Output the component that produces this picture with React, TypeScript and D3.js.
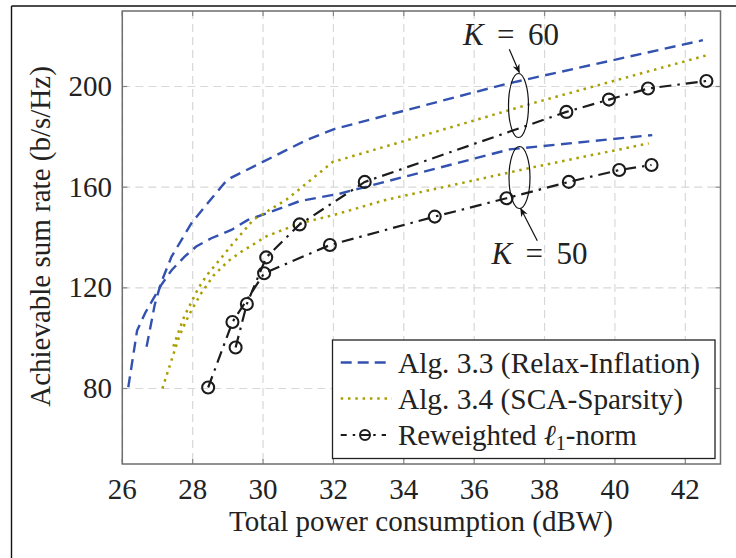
import React from "react";
import * as d3 from "d3";

type Pt = [number, number];

const xTicks = [26, 28, 30, 32, 34, 36, 38, 40, 42];
const yTicks = [80, 120, 160, 200];

const relaxK50: Pt[] = [[26.17, 80.5], [26.42, 103], [26.65, 110], [27.1, 121], [27.4, 127], [27.77, 132.4], [28.1, 136.4], [28.53, 139.7], [29.1, 143], [29.57, 147], [30.1, 149.6], [31.05, 154.5], [32.2, 157.5], [37.0, 175], [41.06, 180.7]];
const relaxK60: Pt[] = [[26.69, 96.6], [26.83, 106.6], [26.92, 113.2], [27.1, 122], [27.4, 132.4], [27.97, 145.8], [28.43, 153.7], [28.9, 161.6], [29.1, 163.8], [31.23, 178.7], [32, 183], [36.9, 201], [42.5, 218.4]];
const scaK50: Pt[] = [[27.14, 80], [27.3, 87], [27.45, 93.5], [27.6, 100], [27.8, 106.5], [28.0, 112], [28.25, 118], [28.6, 125], [29.0, 130.5], [29.4, 134.5], [30.1, 140.5], [31.04, 145.6], [32, 148.9], [33.5, 155], [37.7, 168], [40.96, 177.4]];
const scaK60: Pt[] = [[27.45, 96.7], [27.6, 102.6], [27.76, 108.6], [27.97, 114.5], [28.16, 119.8], [28.4, 125], [28.7, 130], [29.15, 137.7], [29.72, 147], [30.66, 155], [31.28, 162], [31.98, 170], [37.7, 193.5], [42.61, 212.4]];
const rwK50: Pt[] = [[28.44, 80.4], [29.13, 106.4], [30.03, 125.8], [31.9, 137.0], [34.88, 148.3], [36.92, 155.6], [38.69, 162.1], [40.12, 166.8], [41.04, 168.8]];
const rwK60: Pt[] = [[29.22, 96.3], [29.54, 113.6], [30.09, 132.1], [31.04, 145.2], [32.89, 162.1], [38.62, 189.9], [39.83, 194.8], [40.94, 199.2], [42.6, 202.2]];

const legendLabels = ["Alg. 3.3 (Relax-Inflation)", "Alg. 3.4 (SCA-Sparsity)", "Reweighted "];
const xLabel = "Total power consumption (dBW)";
const yLabel = "Achievable sum rate (b/s/Hz)";

const BLUE = "#3352b0";
const OLIVE = "#a99f00";
const BLACK = "#1c1c1c";
const FONT = '"Liberation Serif", "DejaVu Serif", "Times New Roman", serif';

export default function App() {
  const W = 736, H = 558;
  const left = 122.3, right = 720.5, top = 11, bottom = 464;
  const x = d3.scaleLinear().domain([26, 43]).range([left, right]);
  const y = d3.scaleLinear().domain([50, 230]).range([bottom, top]);
  const line = d3.line<Pt>().x(d => x(d[0])).y(d => y(d[1]));

  const blueStyle = { stroke: BLUE, strokeWidth: 2.4, strokeDasharray: "11,6.5", fill: "none" };
  const oliveStyle = { stroke: OLIVE, strokeWidth: 2.5, strokeDasharray: "2.5,4.8", fill: "none" };
  const blackStyle = { stroke: BLACK, strokeWidth: 2.2, strokeDasharray: "12,6,2.5,6", fill: "none" };

  const fs = 29;
  const ts = { fontFamily: FONT };

  return (
    <svg width={W} height={H} style={{ position: "absolute", left: 0, top: 0, background: "#fff", fontFamily: FONT }}>
      <defs>
        <clipPath id="plotclip">
          <rect x={left} y={top} width={right - left} height={bottom - top} />
        </clipPath>
        <marker id="arr" viewBox="0 0 10 10" refX="9" refY="5" markerWidth="9" markerHeight="9" orient="auto-start-reverse" markerUnits="userSpaceOnUse">
          <path d="M0,1 L10,5 L0,9 L3,5 Z" fill="#111" />
        </marker>
      </defs>
      {/* outer frame */}
      <line x1={11.5} y1={6} x2={736} y2={6} stroke="#111" strokeWidth={1.4} />
      <line x1={11.5} y1={6} x2={11.5} y2={558} stroke="#111" strokeWidth={1.4} />

      {/* grid */}
      {xTicks.map(t => (
        <line key={"gx" + t} x1={x(t)} x2={x(t)} y1={top} y2={bottom} stroke="#d8d8d8" strokeWidth={1.2} strokeDasharray="8,5" />
      ))}
      {yTicks.map(t => (
        <line key={"gy" + t} x1={left} x2={right} y1={y(t)} y2={y(t)} stroke="#d8d8d8" strokeWidth={1.2} strokeDasharray="8,5" />
      ))}
      {/* ticks */}
      {xTicks.map(t => (
        <g key={"tx" + t} stroke="#888" strokeWidth={1.2}>
          <line x1={x(t)} x2={x(t)} y1={bottom} y2={bottom - 5} />
          <line x1={x(t)} x2={x(t)} y1={top} y2={top + 5} />
        </g>
      ))}
      {yTicks.map(t => (
        <g key={"ty" + t} stroke="#888" strokeWidth={1.2}>
          <line x1={left} x2={left + 5} y1={y(t)} y2={y(t)} />
          <line x1={right} x2={right - 5} y1={y(t)} y2={y(t)} />
        </g>
      ))}

      {/* series */}
      <g clipPath="url(#plotclip)">
        <path d={line(relaxK50) || ""} style={blueStyle} />
        <path d={line(relaxK60) || ""} style={blueStyle} />
        <path d={line(scaK50) || ""} style={oliveStyle} />
        <path d={line(scaK60) || ""} style={oliveStyle} />
        <path d={line(rwK50) || ""} style={blackStyle} />
        <path d={line(rwK60) || ""} style={blackStyle} />
        {[...rwK50, ...rwK60].map((d, i) => (
          <circle key={"c" + i} cx={x(d[0])} cy={y(d[1])} r={6} fill="none" stroke={BLACK} strokeWidth={2.1} />
        ))}
      </g>

      {/* axes box */}
      <rect x={left} y={top} width={right - left} height={bottom - top} fill="none" stroke="#6e6e6e" strokeWidth={1.5} />

      {/* tick labels */}
      {xTicks.map(t => (
        <text key={"lx" + t} style={ts} x={x(t)} y={499} textAnchor="middle" fontSize={fs} fill="#222">{t}</text>
      ))}
      {yTicks.map(t => (
        <text key={"ly" + t} style={ts} x={112} y={y(t) + 9.5} textAnchor="end" fontSize={fs} fill="#222">{t}</text>
      ))}

      {/* axis titles */}
      <text style={ts} x={421} y={531} textAnchor="middle" fontSize={fs} fill="#222">{xLabel}</text>
      <text style={ts} transform={`translate(50,${(top + bottom) / 2 - 1}) rotate(-90)`} textAnchor="middle" fontSize={fs} fill="#222">{yLabel}</text>

      {/* annotations */}
      <ellipse cx={518.5} cy={105.5} rx={10} ry={32} fill="none" stroke="#111" strokeWidth={1.2} />
      <ellipse cx={519.5} cy={177.5} rx={10.5} ry={31} fill="none" stroke="#111" strokeWidth={1.2} />
      <line x1={509.3} y1={49.3} x2={519.3} y2={72.5} stroke="#111" strokeWidth={1.2} markerEnd="url(#arr)" />
      <line x1={537.3} y1={240.7} x2={520.7} y2={208.5} stroke="#111" strokeWidth={1.2} markerEnd="url(#arr)" />
      <text style={ts} x={463} y={45} fontSize={31} fill="#222">
        <tspan fontStyle="italic">K</tspan>
        <tspan x={497}>=</tspan>
        <tspan x={528}>60</tspan>
      </text>
      <text style={ts} x={491.5} y={263.5} fontSize={31} fill="#222">
        <tspan fontStyle="italic">K</tspan>
        <tspan x={525.5}>=</tspan>
        <tspan x={556.5}>50</tspan>
      </text>

      {/* legend */}
      <rect x={332.5} y={340} width={382.5} height={118.5} fill="#fff" stroke="#222" strokeWidth={1.3} />
      <line x1={340.7} x2={386} y1={362.5} y2={362.5} stroke={BLUE} strokeWidth={2.4} strokeDasharray="11,6" />
      <line x1={340.7} x2={392} y1={398.5} y2={398.5} stroke={OLIVE} strokeWidth={2.5} strokeDasharray="2.5,4.8" />
      <line x1={340.7} x2={386} y1={435} y2={435} stroke={BLACK} strokeWidth={2.2} strokeDasharray="6,6,2.5,6" />
      <circle cx={365} cy={435} r={5} fill="#fff" stroke={BLACK} strokeWidth={2} />
      <line x1={360} x2={370} y1={435} y2={435} stroke={BLACK} strokeWidth={2} />
      <text style={ts} x={398} y={372.5} fontSize={fs} fill="#222" textLength={302} lengthAdjust="spacingAndGlyphs">{legendLabels[0]}</text>
      <text style={ts} x={398} y={408.5} fontSize={fs} fill="#222" textLength={285} lengthAdjust="spacingAndGlyphs">{legendLabels[1]}</text>
      <text style={ts} x={398} y={444.5} fontSize={fs} fill="#222">
        {legendLabels[2]}
        <tspan fontStyle="italic">ℓ</tspan>
        <tspan fontSize={20} dy={5}>1</tspan>
        <tspan dy={-5}>-norm</tspan>
      </text>
    </svg>
  );
}
